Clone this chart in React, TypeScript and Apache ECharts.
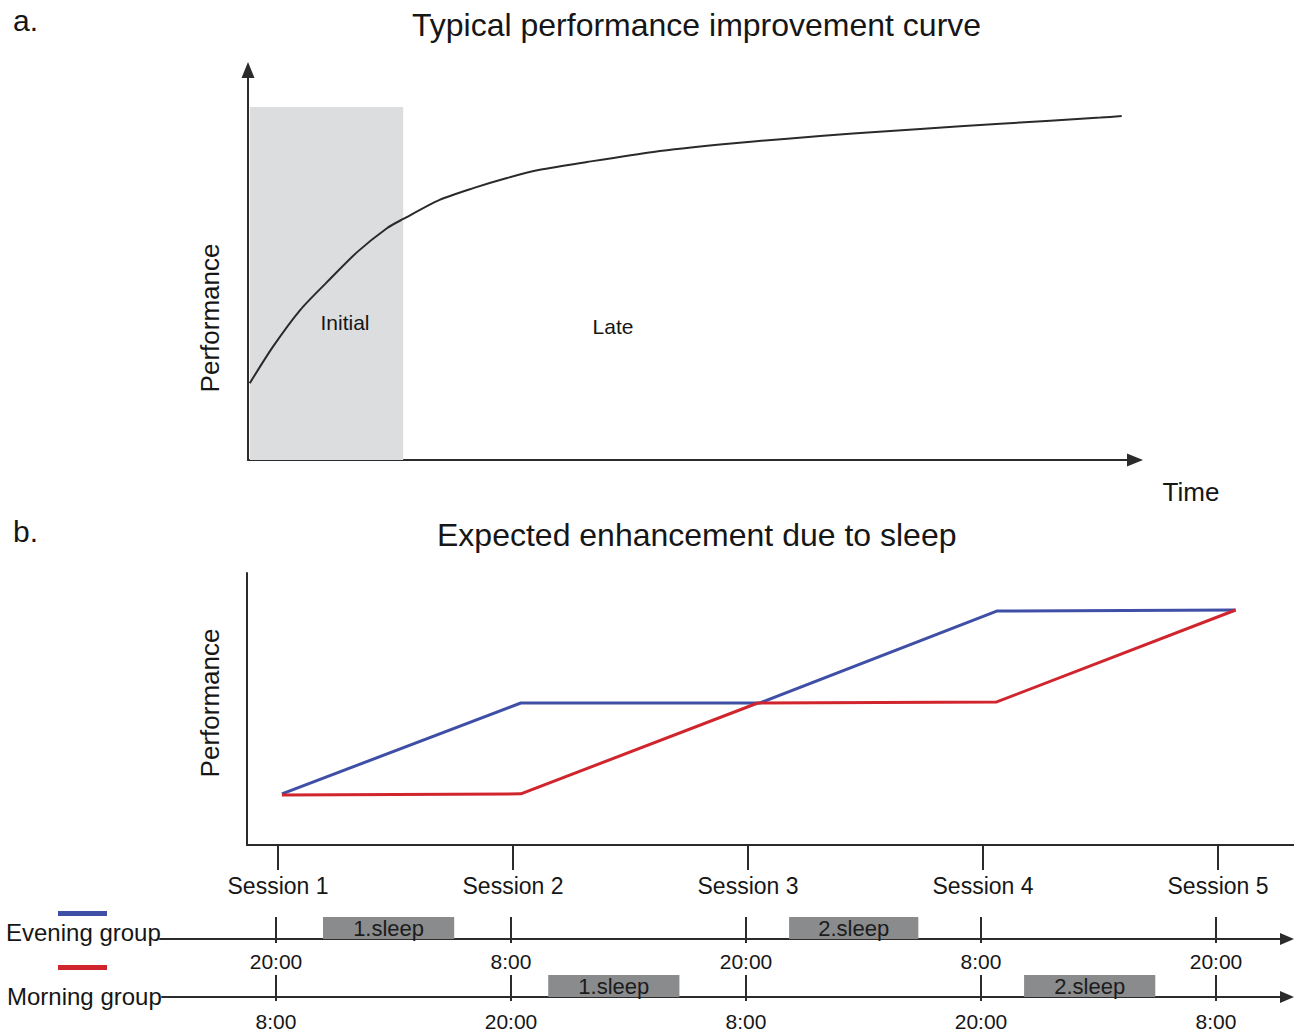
import React, { useEffect, useRef } from "react";
import * as echarts from "echarts";

const FONT = "'Liberation Sans', Arial, Helvetica, sans-serif";
const TEXT = "#161616";
const AXIS = "#2b2b2b";

// ---------- Panel a: typical performance improvement curve ----------
const curveX = [0.2, 2.8, 5.9, 8.9, 12.3, 15.7, 17.5, 21.6, 25.4, 29.2, 32.9, 38.2, 45.7, 53.2, 60.8, 68.2, 75.8, 84.8, 96.1, 98.5];
const curveY = [19.7, 29.0, 38.5, 45.6, 53.3, 59.5, 61.8, 66.7, 69.7, 72.3, 74.4, 76.4, 79.0, 80.9, 82.4, 83.7, 84.9, 86.2, 87.8, 88.2];
const initialPhase = { startX: 0.2, endX: 17.5, top: 90.5 };

// ---------- Panel b: expected enhancement due to sleep ----------
const sessionLabels = ["Session 1", "Session 2", "Session 3", "Session 4", "Session 5"];
const sessionHours = [0, 12, 24, 36, 48]; // hours since session 1
const eveningX = [0.2, 12.4, 24.6, 36.7, 48.9];
const eveningPerf = [18.8, 52.2, 52.2, 86.0, 86.4];
const morningX = [0.2, 12.4, 24.5, 36.7, 48.9];
const morningPerf = [18.4, 18.8, 52.2, 52.6, 86.4];

// ---------- Timelines (clock hours, day 0 = first day) ----------
const eveningTicks = [20, 32, 44, 56, 68];
const morningTicks = [8, 20, 32, 44, 56];
const eveningSleepStart = [22.4, 46.2];
const eveningSleepEnd = [29.1, 52.8];
const morningSleepStart = [21.9, 46.2];
const morningSleepEnd = [28.6, 52.9];
const sleepLabels = ["1.sleep", "2.sleep"];

const BLUE = "#3f4fa6";
const RED = "#d0252d";

// layout constants
const PX_PER_H = (1218 - 278) / 48;
const GB = { left: 247, top: 573, width: 1047, height: 272 };
const GE = { left: 160, top: 900, width: 1127, height: 39 };
const GM = { left: 162, top: 958, width: 1125, height: 39 };
const BOX_H = 22;

function range(left: number, width: number, anchorPx: number, anchorVal: number) {
  const min = anchorVal - (anchorPx - left) / PX_PER_H;
  return { min, max: min + width / PX_PER_H };
}

const fmtClock = (v: number) => `${Math.round(v) % 24}:00`;

function sleepSeries(idx: number, starts: number[], ends: number[]) {
  return {
    type: "custom",
    xAxisIndex: idx,
    yAxisIndex: idx,
    silent: true,
    data: starts.map((s, i) => [s, ends[i], 0]),
    renderItem: (params: any, api: any) => {
      const p0 = api.coord([api.value(0), 0]);
      const p1 = api.coord([api.value(1), 0]);
      return {
        type: "group",
        children: [
          {
            type: "rect",
            shape: { x: p0[0], y: p0[1] - BOX_H, width: p1[0] - p0[0], height: BOX_H },
            style: { fill: "#8a8b8d" },
          },
          {
            type: "text",
            style: {
              text: sleepLabels[params.dataIndex],
              x: (p0[0] + p1[0]) / 2,
              y: p0[1] - BOX_H / 2,
              align: "center",
              verticalAlign: "middle",
              fontSize: 22,
              fontFamily: FONT,
              fill: "#1c1c1c",
            },
          },
        ],
      };
    },
  };
}

function tickSeries(idx: number, ticks: number[]) {
  return {
    type: "custom",
    xAxisIndex: idx,
    yAxisIndex: idx,
    silent: true,
    z: 5,
    data: ticks.map((t) => [t, 0]),
    renderItem: (_params: any, api: any) => {
      const p = api.coord([api.value(0), 0]);
      return {
        type: "line",
        shape: { x1: p[0], y1: p[1] - 22, x2: p[0], y2: p[1] + 4 },
        style: { stroke: AXIS, lineWidth: 2 },
      };
    },
  };
}

export default function App() {
  const ref = useRef<HTMLDivElement>(null);

  useEffect(() => {
    if (!ref.current) return;
    const chart = echarts.init(ref.current, null, { renderer: "svg" });

    const rb = range(GB.left, GB.width, 278, 0);
    const re = range(GE.left, GE.width, 276, eveningTicks[0]);
    const rm = range(GM.left, GM.width, 276, morningTicks[0]);

    const titleStyle = { fontSize: 32, fontWeight: "normal", color: TEXT, fontFamily: FONT };
    const labelStyle = { fontSize: 30, fontWeight: "normal", color: TEXT, fontFamily: FONT };

    const arrowLine = (size: number[]) => ({
      show: true,
      onZero: false,
      symbol: ["none", "triangle"],
      symbolSize: size,
      symbolOffset: [0, 0],
      lineStyle: { color: AXIS, width: 2 },
    });

    const option: any = {
      animation: false,
      backgroundColor: "#ffffff",
      title: [
        { text: "a.", left: 8, top: 0, textStyle: labelStyle },
        { text: "Typical performance improvement curve", left: 407, top: 4, textStyle: titleStyle },
        { text: "b.", left: 8, top: 511, textStyle: labelStyle },
        { text: "Expected enhancement due to sleep", left: 432, top: 514, textStyle: titleStyle },
      ],
      legend: [
        {
          data: [{ name: "Evening group", icon: "rect" }],
          left: 58,
          top: 911,
          itemWidth: 49,
          itemHeight: 5,
          padding: 0,
          selectedMode: false,
          formatter: () => "",
          textStyle: { fontSize: 5 },
        },
        {
          data: [{ name: "Morning group", icon: "rect" }],
          left: 58,
          top: 965,
          itemWidth: 49,
          itemHeight: 5,
          padding: 0,
          selectedMode: false,
          formatter: () => "",
          textStyle: { fontSize: 5 },
        },
      ],
      grid: [
        { left: 248, top: 70, width: 887, height: 390 },
        { left: GB.left, top: GB.top, width: GB.width, height: GB.height },
        { left: GE.left, top: GE.top, width: GE.width, height: GE.height },
        { left: GM.left, top: GM.top, width: GM.width, height: GM.height },
      ],
      xAxis: [
        {
          gridIndex: 0,
          type: "value",
          min: 0,
          max: 100,
          axisLine: arrowLine([13, 16]),
          axisTick: { show: false },
          axisLabel: { show: false },
          splitLine: { show: false },
        },
        {
          gridIndex: 1,
          type: "value",
          min: rb.min,
          max: rb.max,
          axisLine: { show: true, onZero: false, lineStyle: { color: AXIS, width: 2 } },
          axisTick: { show: true, length: 25, customValues: sessionHours, lineStyle: { color: AXIS, width: 2 } },
          axisLabel: {
            show: true,
            customValues: sessionHours,
            margin: 29,
            fontSize: 23,
            color: TEXT,
            fontFamily: FONT,
            formatter: (v: number) => sessionLabels[sessionHours.indexOf(Math.round(v))] ?? "",
          },
          splitLine: { show: false },
        },
        {
          gridIndex: 2,
          type: "value",
          min: re.min,
          max: re.max,
          axisLine: arrowLine([12, 14]),
          axisTick: { show: false },
          axisLabel: {
            show: true,
            customValues: eveningTicks,
            margin: 12,
            fontSize: 21,
            color: TEXT,
            fontFamily: FONT,
            formatter: fmtClock,
          },
          splitLine: { show: false },
        },
        {
          gridIndex: 3,
          type: "value",
          min: rm.min,
          max: rm.max,
          axisLine: arrowLine([12, 14]),
          axisTick: { show: false },
          axisLabel: {
            show: true,
            customValues: morningTicks,
            margin: 14,
            fontSize: 21,
            color: TEXT,
            fontFamily: FONT,
            formatter: fmtClock,
          },
          splitLine: { show: false },
        },
      ],
      yAxis: [
        {
          gridIndex: 0,
          type: "value",
          min: 0,
          max: 100,
          axisLine: arrowLine([13, 16]),
          axisTick: { show: false },
          axisLabel: { show: false },
          splitLine: { show: false },
        },
        {
          gridIndex: 1,
          type: "value",
          min: 0,
          max: 100,
          axisLine: { show: true, onZero: false, lineStyle: { color: AXIS, width: 2 } },
          axisTick: { show: false },
          axisLabel: { show: false },
          splitLine: { show: false },
        },
        { gridIndex: 2, type: "value", min: 0, max: 1, show: false },
        { gridIndex: 3, type: "value", min: 0, max: 1, show: false },
      ],
      series: [
        {
          name: "Typical curve",
          type: "line",
          xAxisIndex: 0,
          yAxisIndex: 0,
          data: curveX.map((x, i) => [x, curveY[i]]),
          smooth: 0.25,
          showSymbol: false,
          symbol: "none",
          lineStyle: { color: "#2a2a2a", width: 2 },
          z: 3,
          markArea: {
            silent: true,
            itemStyle: { color: "#dcdddf" },
            data: [[{ xAxis: initialPhase.startX, yAxis: 0 }, { xAxis: initialPhase.endX, yAxis: initialPhase.top }]],
          },
        },
        {
          name: "Evening group",
          type: "line",
          xAxisIndex: 1,
          yAxisIndex: 1,
          data: eveningX.map((x, i) => [x, eveningPerf[i]]),
          showSymbol: false,
          symbol: "none",
          color: BLUE,
          lineStyle: { color: BLUE, width: 3 },
          z: 3,
        },
        {
          name: "Morning group",
          type: "line",
          xAxisIndex: 1,
          yAxisIndex: 1,
          data: morningX.map((x, i) => [x, morningPerf[i]]),
          showSymbol: false,
          symbol: "none",
          color: RED,
          lineStyle: { color: RED, width: 3 },
          z: 4,
        },
        sleepSeries(2, eveningSleepStart, eveningSleepEnd),
        tickSeries(2, eveningTicks),
        sleepSeries(3, morningSleepStart, morningSleepEnd),
        tickSeries(3, morningTicks),
      ],
      graphic: [
        {
          type: "text",
          x: 210,
          y: 318,
          z: 100,
          rotation: Math.PI / 2,
          style: { text: "Performance", fontSize: 26, fontFamily: FONT, fill: TEXT, align: "center", verticalAlign: "middle" },
        },
        {
          type: "text",
          x: 210,
          y: 703,
          z: 100,
          rotation: Math.PI / 2,
          style: { text: "Performance", fontSize: 26, fontFamily: FONT, fill: TEXT, align: "center", verticalAlign: "middle" },
        },
        {
          type: "text",
          x: 1191,
          y: 492,
          z: 100,
          style: { text: "Time", fontSize: 26, fontFamily: FONT, fill: TEXT, align: "center", verticalAlign: "middle" },
        },
        {
          type: "text",
          x: 345,
          y: 322,
          z: 100,
          style: { text: "Initial", fontSize: 21, fontFamily: FONT, fill: TEXT, align: "center", verticalAlign: "middle" },
        },
        {
          type: "text",
          x: 613,
          y: 326,
          z: 100,
          style: { text: "Late", fontSize: 21, fontFamily: FONT, fill: TEXT, align: "center", verticalAlign: "middle" },
        },
        {
          type: "text",
          x: 6,
          y: 932,
          z: 100,
          style: { text: "Evening group", fontSize: 24, fontFamily: FONT, fill: TEXT, align: "left", verticalAlign: "middle" },
        },
        {
          type: "text",
          x: 7,
          y: 996,
          z: 100,
          style: { text: "Morning group", fontSize: 24, fontFamily: FONT, fill: TEXT, align: "left", verticalAlign: "middle" },
        },
      ],
    };

    chart.setOption(option);
    return () => chart.dispose();
  }, []);

  return (
    <div
      ref={ref}
      style={{ position: "fixed", left: 0, top: 0, width: 1294, height: 1036, background: "#fff" }}
    />
  );
}
